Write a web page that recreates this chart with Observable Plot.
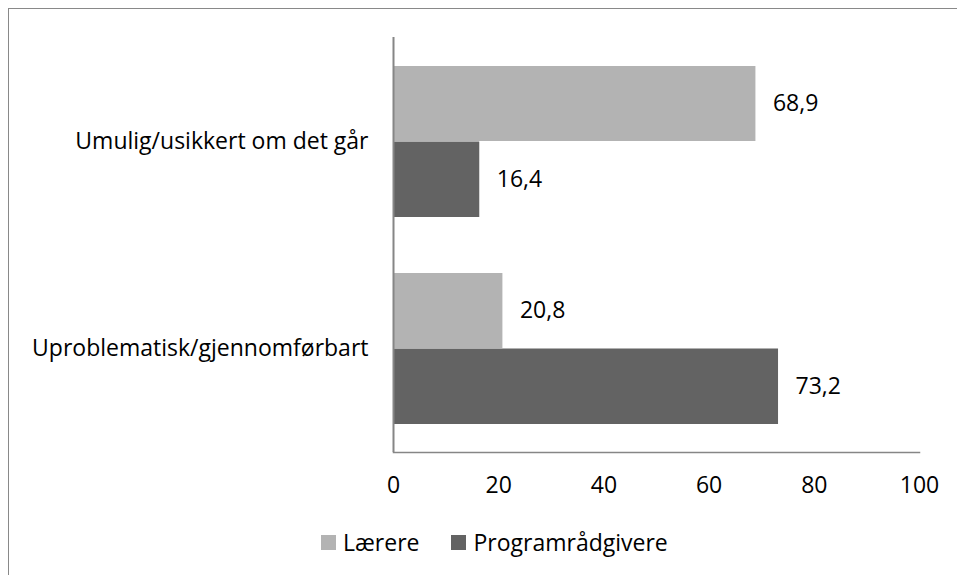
<!DOCTYPE html>
<html>
<head>
<meta charset="utf-8">
<script src="https://cdn.jsdelivr.net/npm/d3@7"></script>
<script src="https://cdn.jsdelivr.net/npm/@observablehq/plot@0.6"></script>
<style>
  body { margin: 0; background: #fff; font-family: "Open Sans", sans-serif; }
  #wrap { position: relative; width: 957px; height: 575px; overflow: hidden; }
  #border { position: absolute; left: 8px; top: 8px; width: 1000px; height: 700px; border-left: 1px solid #898989; border-top: 1px solid #898989; }
  #chart { position: absolute; left: 0; top: 0; }
  #legend { position: absolute; left: 321px; top: 526px; display: flex; align-items: center; font-size: 23px; line-height: 32px; color: #000; }
  .sw { display: inline-block; width: 15px; height: 15px; margin-right: 7px; }
  .item { display: flex; align-items: center; margin-right: 32px; }
</style>
</head>
<body>
<div id="wrap">
  <div id="border"></div>
  <div id="chart"></div>
  <div id="legend"></div>
</div>
<script>
const categories = ["Umulig/usikkert om det går", "Uproblematisk/gjennomførbart"];
const series = ["Lærere", "Programrådgivere"];
const laerere = [68.9, 20.8];
const programradgivere = [16.4, 73.2];
const xTicks = [0, 20, 40, 60, 80, 100];
const colors = ["#b3b3b3", "#636363"];

const fmt = v => v.toFixed(1).replace(".", ",");
const rowsL = categories.map((c, i) => ({category: c, series: series[0], value: laerere[i]}));
const rowsP = categories.map((c, i) => ({category: c, series: series[1], value: programradgivere[i]}));

const font = "'Open Sans', sans-serif";
const plot = Plot.plot({
  width: 957,
  height: 515,
  marginLeft: 393,
  marginRight: 38,
  marginTop: 37,
  marginBottom: 63,
  style: {fontFamily: font, fontSize: "23px", color: "#000", background: "transparent", overflow: "visible"},
  x: {domain: [0, 100], ticks: xTicks, tickSize: 0, tickPadding: 24, label: null, tickFormat: d => d},
  y: {domain: categories, padding: 0, tickSize: 0, tickPadding: 25, label: null},
  color: {domain: series, range: colors},
  marks: [
    Plot.barX(rowsL, {x: "value", y: "category", fill: colors[0], insetTop: 28, insetBottom: 104}),
    Plot.barX(rowsP, {x: "value", y: "category", fill: colors[1], insetTop: 103.5, insetBottom: 28}),
    Plot.text(rowsL, {x: "value", y: "category", text: d => fmt(d.value), dx: 17, dy: -38, textAnchor: "start", fill: "#000"}),
    Plot.text(rowsP, {x: "value", y: "category", text: d => fmt(d.value), dx: 17, dy: 38, textAnchor: "start", fill: "#000"}),
    Plot.ruleX([0], {stroke: "#868686", strokeWidth: 2}),
    Plot.frame({anchor: "bottom", stroke: "#868686", strokeWidth: 1.5})
  ]
});
document.getElementById("chart").appendChild(plot);

const legend = document.getElementById("legend");
series.forEach((s, i) => {
  const item = document.createElement("span");
  item.className = "item";
  const sw = document.createElement("span");
  sw.className = "sw";
  sw.style.background = colors[i];
  item.appendChild(sw);
  item.appendChild(document.createTextNode(s));
  legend.appendChild(item);
});
</script>
</body>
</html>
